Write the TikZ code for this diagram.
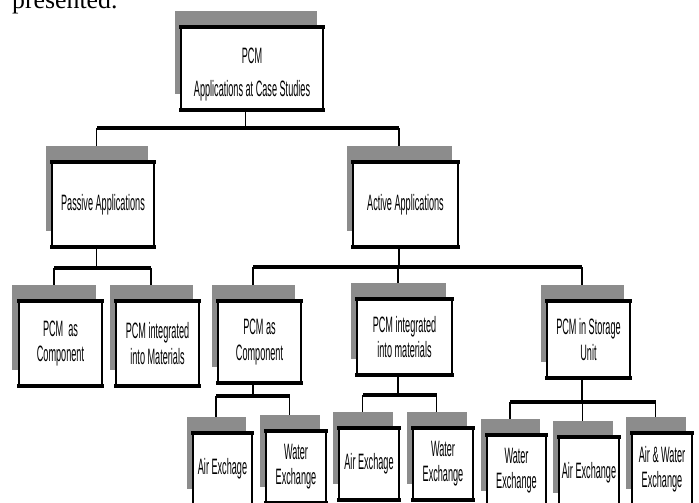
\documentclass[tikz,border=0pt]{standalone}
\usepackage{fontspec}
\setmainfont{Liberation Sans}[FakeStretch=0.41]
\newfontfamily\bodyserif{Liberation Serif}
\usetikzlibrary{shadows}

\tikzset{
  box/.style={draw, line width=1.2pt, fill=white, align=center, inner sep=1pt, outer sep=0pt,
    font=\fontsize{19}{21.5}\selectfont,
    drop shadow={shadow xshift=-.195cm, shadow yshift=.495cm, fill=black!45, opacity=1}},
  leaf/.style={box, minimum width=60*.03cm, minimum height=72*.03cm},
  stem/.style={line width=1.3pt},
  bus/.style={line width=3pt},
  rim/.style={line width=2.8pt, line cap=rect}
}

\begin{document}
\begin{tikzpicture}[x=.03cm, y=-.03cm]
\clip (0,0) rectangle (699,502);
\node[anchor=base west, inner sep=0pt, font=\bodyserif\fontsize{22}{24}\selectfont] (prev) at (12,8) {presented.};

% top and second level
\node[box, minimum width=142*.03cm, minimum height=83*.03cm] (top) at (252,68.5) {\rule{0pt}{24pt}PCM\\[7pt]Applications at Case Studies};
\node[box, minimum width=102*.03cm, minimum height=85*.03cm] (passive) at (103,204.5) {Passive Applications};
\node[box, minimum width=105*.03cm, minimum height=85*.03cm] (active) at (405.5,204.5) {Active Applications};

% third level
\node[box, minimum width=83*.03cm, minimum height=85*.03cm] (pcomp) at (60.5,343.5) {PCM\ \ as\\Component};
\node[box, minimum width=83*.03cm, minimum height=85*.03cm] (pint) at (157.5,343.5) {PCM integrated\\into Materials};
\node[box, minimum width=83*.03cm, minimum height=82*.03cm] (acomp) at (259.5,342) {PCM as\\Component};
\node[box, minimum width=95*.03cm, minimum height=76*.03cm] (aint) at (404.5,337) {PCM integrated\\into materials};
\node[box, minimum width=83*.03cm, minimum height=77*.03cm] (astore) at (588.5,339.5) {PCM in Storage\\Unit};

% leaves
\node[leaf, minimum width=59*.03cm] (l1) at (222.5,469) {Air Exchage};
\node[leaf] (l2) at (296,467) {Water\\Exchange};
\node[leaf] (l3) at (369,464) {Air Exchage};
\node[leaf] (l4) at (443,464) {Water\\Exchange};
\node[leaf, minimum width=59*.03cm] (l5) at (516.5,471) {Water\\Exchange};
\node[leaf] (l6) at (589,473) {Air Exchange};
\node[leaf] (l7) at (662,469) {Air \& Water\\Exchange};

\foreach \n in {top,passive,active,pcomp,pint,acomp,aint,astore,l1,l2,l3,l4,l5,l6,l7}
{
    \draw[rim] (\n.north west)--(\n.north east) (\n.south west)--(\n.south east);
    \coordinate (\n-in) at ([shift={(-6.5,-16.5)}]\n.north);
    \coordinate (\n-out) at ([shift={(-6.5,0)}]\n.south);
}

\foreach \p/\yb/\kids in {top/128/{passive,active}, passive/268/{pcomp,pint},
    active/267/{acomp,aint,astore}, acomp/396/{l1,l2}, aint/395/{l3,l4}, astore/402/{l5,l6,l7}}
{
    \coordinate (\p-bus) at (0,\yb);
    \draw[stem] (\p-out)--(\p-out |- \p-bus);
    \foreach \k in \kids
    {
        \draw[bus] (\p-out |- \p-bus)--(\k-in |- \p-bus);
        \draw[stem] (\k-in |- \p-bus)--(\k-in);
    }
}

\end{tikzpicture}
\end{document}
